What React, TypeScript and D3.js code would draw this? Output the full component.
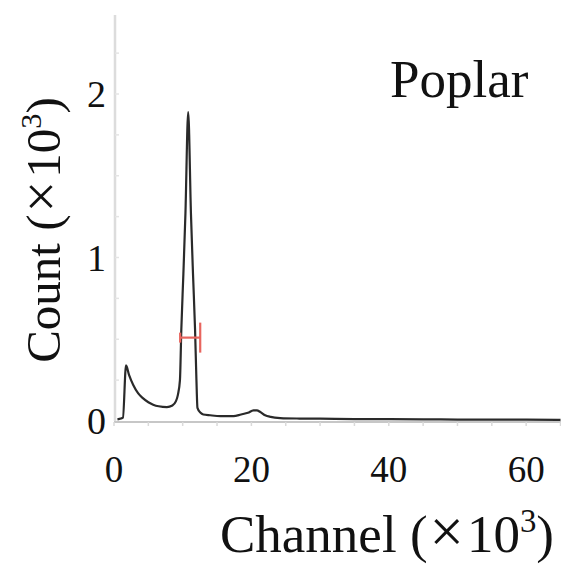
import React from "react";
import * as d3 from "d3";

// Channel (×10³) and Count (×10³)
const channel = [0.5, 1.0, 1.3, 1.75, 2.2, 2.8, 3.5, 4.2, 5.0, 5.7, 6.5, 7.7, 8.5, 9.0, 9.3, 9.6, 9.8, 10.1, 10.4, 10.8, 11.2, 11.5, 11.8, 12.0, 12.15, 12.6, 13.0, 14.0, 15.5, 17.4, 18.5, 19.5, 20.3, 20.8, 21.3, 22.0, 22.8, 24.2, 27, 30, 35, 40, 45, 50, 55, 60, 65];
const count = [0.01, 0.015, 0.02, 0.34, 0.28, 0.22, 0.17, 0.14, 0.115, 0.1, 0.09, 0.085, 0.095, 0.12, 0.16, 0.25, 0.56, 0.9, 1.27, 1.89, 1.27, 0.9, 0.56, 0.25, 0.08, 0.05, 0.04, 0.035, 0.03, 0.03, 0.04, 0.05, 0.065, 0.065, 0.055, 0.035, 0.025, 0.018, 0.015, 0.014, 0.012, 0.011, 0.01, 0.009, 0.008, 0.008, 0.007];

const xTicks = [0, 20, 40, 60];
const yTicks = [0, 1, 2];
const xMinorTicks = [0, 5, 10, 15, 20, 25, 30, 35, 40, 45, 50, 55, 60, 65];
const yMinorTicks = [0.25, 0.5, 0.75, 1, 1.25, 1.5, 1.75, 2, 2.25];

// error bar (FWHM marker): center channel, left, right, count level
const errCenter = [10.8];
const errLeft = [9.63];
const errRight = [12.55];
const errLevel = [0.51];

const title = "Poplar";
const xLabelWord = "Channel";
const yLabelWord = "Count";

function Unit() {
  return (
    <>
      {" ("}
      <tspan fontSize="1.15em" dx={2}>×</tspan>
      <tspan dx={3}>10</tspan>
      <tspan fontSize="0.62em" dy="-0.62em">3</tspan>
      <tspan dy="0.385em">)</tspan>
    </>
  );
}

export default function App() {
  const W = 561;
  const H = 564;
  const x = d3.scaleLinear().domain([0, 65.07]).range([114, 561]);
  const y = d3.scaleLinear().domain([0, 2]).range([421, 94]);

  const pts = channel.map((c, i) => [c, count[i]] as [number, number]);
  const line = d3
    .line<[number, number]>()
    .x((d) => x(d[0]))
    .y((d) => y(d[1]))
    .curve(d3.curveMonotoneX);

  const font = "'Liberation Serif', 'Times New Roman', serif";

  return (
    <svg
      width={W}
      height={H}
      style={{ position: "absolute", left: 0, top: 0, background: "#fff" }}
      fontFamily={font}
    >
      <rect x={0} y={0} width={W} height={H} fill="#fff" />
      {/* y axis */}
      <line x1={115} x2={115} y1={15} y2={y(0)} stroke="#dcdcdc" strokeWidth={2.5} />
      {yMinorTicks.map((t) => (
        <line key={"ym" + t} x1={115} x2={119} y1={y(t)} y2={y(t)} stroke="#e4e4e4" strokeWidth={1.5} />
      ))}
      {/* x axis */}
      <line x1={x(0)} x2={W} y1={y(0) + 1} y2={y(0) + 1} stroke="#b4b4b4" strokeWidth={1.5} />
      {xMinorTicks.map((t) => (
        <line key={"xm" + t} x1={x(t)} x2={x(t)} y1={y(0) + 1} y2={y(0) + 5} stroke="#dadada" strokeWidth={1.5} />
      ))}
      {/* curve */}
      <path d={line(pts) || ""} fill="none" stroke="#2a2a2a" strokeWidth={2.2} strokeLinejoin="round" />
      {/* error bar */}
      {errCenter.map((c, i) => (
        <g key={"err" + i} stroke="#e8655e" strokeWidth={2.2}>
          <line x1={x(errLeft[i])} x2={x(errRight[i])} y1={y(errLevel[i])} y2={y(errLevel[i])} />
          <line x1={x(errLeft[i])} x2={x(errLeft[i])} y1={y(errLevel[i]) - 5} y2={y(errLevel[i]) + 5} />
          <line x1={x(errRight[i])} x2={x(errRight[i])} y1={y(errLevel[i]) - 15} y2={y(errLevel[i]) + 15} />
        </g>
      ))}
      {/* tick labels */}
      {yTicks.map((t) => (
        <text key={"yt" + t} x={106} y={y(t)} dy="0.35em" textAnchor="end" fontSize={38} fill="#111">
          {t}
        </text>
      ))}
      {xTicks.map((t) => (
        <text key={"xt" + t} x={x(t)} y={482} textAnchor="middle" fontSize={37} fill="#111">
          {t}
        </text>
      ))}
      {/* title */}
      <text x={390} y={97} fontSize={53} fill="#111">
        {title}
      </text>
      {/* axis labels */}
      <text x={387} y={552} textAnchor="middle" fontSize={53} fill="#111">
        {xLabelWord}
        <Unit />
      </text>
      <text transform="translate(60,230) rotate(-90)" textAnchor="middle" fontSize={49} fill="#111">
        {yLabelWord}
        <Unit />
      </text>
    </svg>
  );
}
